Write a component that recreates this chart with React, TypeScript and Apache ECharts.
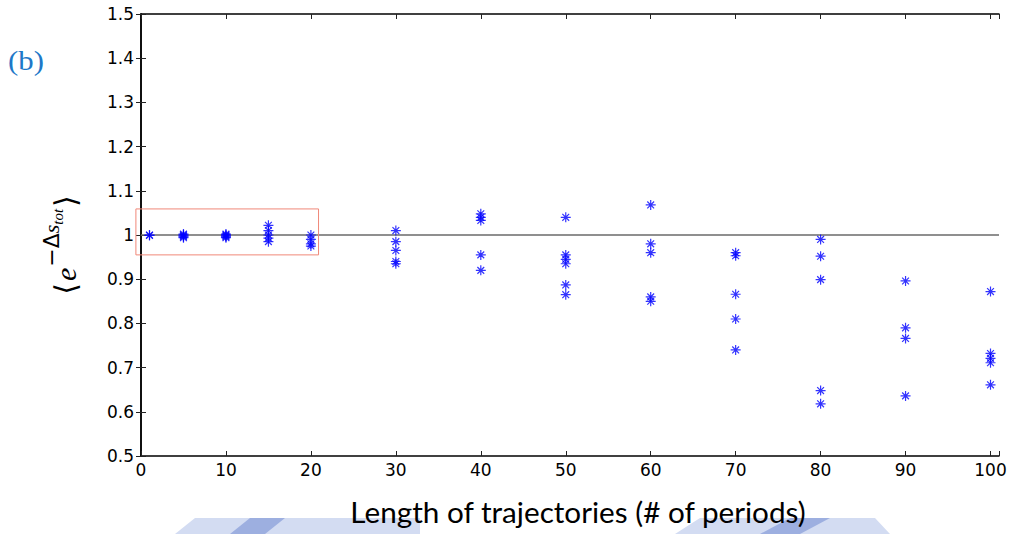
import React, { useEffect, useRef } from "react";
import * as echarts from "echarts";

const lengths = [1, 5, 10, 15, 20, 30, 40, 50, 60, 70, 80, 90, 100];
const values: number[][] = [
  [1.0, 0.999],
  [1.002, 1.0, 0.998, 0.996, 0.994],
  [1.002, 1.0, 0.998, 0.996, 0.994],
  [1.022, 1.01, 1.0, 0.993, 0.985],
  [1.0, 0.99, 0.98, 0.975],
  [1.01, 0.985, 0.965, 0.94, 0.935],
  [1.048, 1.04, 1.033, 0.955, 0.92],
  [1.04, 0.955, 0.945, 0.935, 0.887, 0.865],
  [1.068, 0.98, 0.96, 0.86, 0.85],
  [0.96, 0.953, 0.866, 0.81, 0.74],
  [0.99, 0.952, 0.899, 0.648, 0.618],
  [0.896, 0.79, 0.766, 0.636],
  [0.872, 0.732, 0.721, 0.711, 0.661],
];
const refLevel = 1;
const xRange = [0, 101];
const yRange = [0.5, 1.5];
const boxX = [-0.6, 20.9];
const boxY = [0.955, 1.059];
const xTitle = "Length of trajectories (# of periods)";
const panelLabel = "(b)";

const asterisk =
  "path://M5,0L5,10M0,5L10,5M1.6,1.6L8.4,8.4M1.6,8.4L8.4,1.6";

export default function App() {
  const ref = useRef<HTMLDivElement>(null);
  useEffect(() => {
    const chart = echarts.init(ref.current!, null, { renderer: "svg" });
    const points = lengths.flatMap((x, i) => values[i].map((v) => [x, v]));
    const axisLine = { lineStyle: { color: "#000", width: 1.5 } };
    const tick = { inside: true, length: 5, lineStyle: { color: "#222", width: 1 } };
    const labelFont = { color: "#000", fontSize: 17, fontFamily: "DejaVu Sans" };
    chart.setOption({
      animation: false,
      backgroundColor: "#fff",
      grid: { left: 141, right: 11, top: 14, bottom: 78 },
      xAxis: [
        {
          type: "value",
          min: xRange[0],
          max: xRange[1],
          interval: 10,
          position: "bottom",
          axisLine,
          axisTick: tick,
          splitLine: { show: false },
          axisLabel: {
            ...labelFont,
            margin: 5,
            formatter: (v: number) => (v % 10 === 0 ? String(v) : ""),
          },
        },
        {
          type: "value",
          min: xRange[0],
          max: xRange[1],
          interval: 10,
          position: "top",
          axisLine,
          axisTick: tick,
          splitLine: { show: false },
          axisLabel: { show: false },
        },
      ],
      yAxis: [
        {
          type: "value",
          min: yRange[0],
          max: yRange[1],
          interval: 0.1,
          position: "left",
          axisLine,
          axisTick: tick,
          splitLine: { show: false },
          axisLabel: {
            ...labelFont,
            margin: 7,
            formatter: (v: number) => String(parseFloat(v.toFixed(1))),
          },
        },
        {
          type: "value",
          min: yRange[0],
          max: yRange[1],
          interval: 0.1,
          position: "right",
          axisLine,
          axisTick: tick,
          splitLine: { show: false },
          axisLabel: { show: false },
        },
      ],
      series: [
        {
          type: "line",
          data: [
            [xRange[0], refLevel],
            [xRange[1], refLevel],
          ],
          symbol: "none",
          lineStyle: { color: "#6a6a6a", width: 1.3 },
          silent: true,
          z: 1,
        },
        {
          type: "scatter",
          data: points,
          symbol: asterisk,
          symbolSize: 10,
          itemStyle: { color: "none", borderColor: "#0000ff", borderWidth: 1.2 },
          z: 3,
        },
      ],
    });
    const p1 = chart.convertToPixel({ seriesIndex: 1 }, [boxX[0], boxY[1]]) as number[];
    const p2 = chart.convertToPixel({ seriesIndex: 1 }, [boxX[1], boxY[0]]) as number[];
    chart.setOption({
      graphic: [
        {
          type: "rect",
          shape: { x: p1[0], y: p1[1], width: p2[0] - p1[0], height: p2[1] - p1[1] },
          style: { fill: "none", stroke: "#f08878", lineWidth: 1 },
          z: 2,
        },
        {
          type: "text",
          x: 26,
          y: 60,
          scaleX: 1.1,
          style: {
            text: panelLabel,
            fill: "#1e78c8",
            font: "28px 'Liberation Serif', 'DejaVu Serif', serif",
            textAlign: "center",
            textVerticalAlign: "middle",
          },
        },
        {
          type: "polygon",
          shape: { points: [[175, 534], [195, 518], [420, 518], [420, 534]] },
          style: { fill: "#d3dcf2" },
          z: 0,
        },
        {
          type: "polygon",
          shape: { points: [[230, 534], [250, 518], [285, 518], [265, 534]] },
          style: { fill: "#9dafe0" },
          z: 0,
        },
        {
          type: "polygon",
          shape: { points: [[675, 534], [700, 518], [875, 518], [890, 534]] },
          style: { fill: "#d3dcf2" },
          z: 0,
        },
        {
          type: "polygon",
          shape: { points: [[760, 534], [790, 518], [830, 518], [800, 534]] },
          style: { fill: "#9dafe0" },
          z: 0,
        },
        {
          type: "text",
          x: 578,
          y: 512,
          scaleX: 1.06,
          style: {
            text: xTitle,
            fill: "#000",
            font: "28px Lato, 'Open Sans', sans-serif",
            textAlign: "center",
            textVerticalAlign: "middle",
          },
          z: 5,
        },
        {
          type: "text",
          x: 60,
          y: 245,
          rotation: Math.PI / 2,
          style: {
            text: "{br|⟨}{e|e}{sup|−Δ}{si|s}{sub|tot}{br|⟩}",
            textAlign: "center",
            textVerticalAlign: "middle",
            fill: "#000",
            rich: {
              br: { fontSize: 30, fontFamily: "DejaVu Sans", lineHeight: 40, verticalAlign: "bottom", fill: "#000", padding: [0, 2, 0, 2] },
              e: { fontSize: 30, fontFamily: "Liberation Serif", fontStyle: "italic", lineHeight: 40, verticalAlign: "bottom", fill: "#000" },
              sup: { fontSize: 22, fontFamily: "DejaVu Sans", lineHeight: 40, verticalAlign: "top", fill: "#000", padding: [0, 0, 0, 1] },
              si: { fontSize: 22, fontFamily: "Liberation Serif", fontStyle: "italic", lineHeight: 40, verticalAlign: "top", fill: "#000" },
              sub: { fontSize: 15, fontFamily: "Liberation Serif", fontStyle: "italic", lineHeight: 40, verticalAlign: "top", fill: "#000", padding: [10, 0, 0, 0] },
            },
          },
        },
      ],
    });
    return () => chart.dispose();
  }, []);
  return (
    <div
      ref={ref}
      style={{ position: "absolute", left: 0, top: 0, width: 1010, height: 534 }}
    />
  );
}
